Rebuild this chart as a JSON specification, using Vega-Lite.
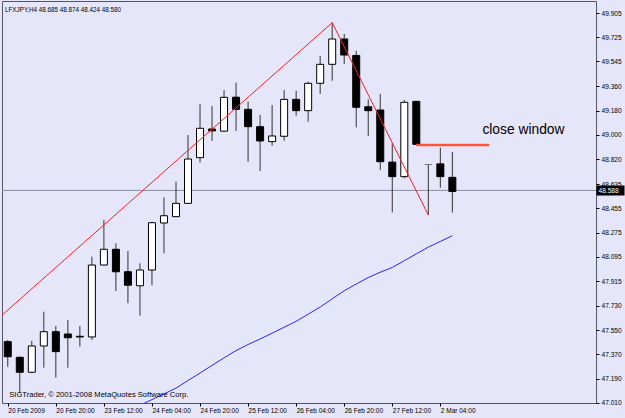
{
  "$schema": "https://vega.github.io/schema/vega-lite/v6.json",
  "width": 594,
  "height": 402,
  "autosize": {"type": "none"},
  "padding": {"left": 2, "top": 1, "right": 29, "bottom": 15},
  "background": "#e6e6fa",
  "config": {
    "view": {"stroke": "#555566", "strokeWidth": 1},
    "font": "Liberation Sans"
  },
  "title": {
    "text": "LFXJPY,H4 48.685 48.874 48.424 48.580",
    "anchor": "start",
    "frame": "group",
    "offset": -12,
    "dx": 3,
    "fontSize": 6.3,
    "fontWeight": "normal",
    "font": "Liberation Sans",
    "color": "black"
  },
  "datasets": {
    "candles": [
      {"i": 0, "t": "20 Feb 04:00", "o": 47.465, "h": 47.477, "l": 47.279, "c": 47.353},
      {"i": 1, "t": "20 Feb 08:00", "o": 47.349, "h": 47.355, "l": 47.084, "c": 47.238},
      {"i": 2, "t": "20 Feb 12:00", "o": 47.238, "h": 47.472, "l": 47.232, "c": 47.433},
      {"i": 3, "t": "20 Feb 16:00", "o": 47.433, "h": 47.688, "l": 47.272, "c": 47.539},
      {"i": 4, "t": "20 Feb 20:00", "o": 47.539, "h": 47.581, "l": 47.198, "c": 47.391},
      {"i": 5, "t": "23 Feb 00:00", "o": 47.522, "h": 47.626, "l": 47.272, "c": 47.494},
      {"i": 6, "t": "23 Feb 04:00", "o": 47.505, "h": 47.581, "l": 47.428, "c": 47.500},
      {"i": 7, "t": "23 Feb 08:00", "o": 47.500, "h": 48.096, "l": 47.477, "c": 48.034},
      {"i": 8, "t": "23 Feb 12:00", "o": 48.034, "h": 48.368, "l": 48.030, "c": 48.151},
      {"i": 9, "t": "23 Feb 16:00", "o": 48.151, "h": 48.195, "l": 47.841, "c": 47.984},
      {"i": 10, "t": "23 Feb 20:00", "o": 47.984, "h": 48.138, "l": 47.750, "c": 47.884},
      {"i": 11, "t": "24 Feb 00:00", "o": 47.880, "h": 48.047, "l": 47.658, "c": 47.997},
      {"i": 12, "t": "24 Feb 04:00", "o": 47.997, "h": 48.355, "l": 47.884, "c": 48.348},
      {"i": 13, "t": "24 Feb 08:00", "o": 48.346, "h": 48.537, "l": 48.121, "c": 48.400},
      {"i": 14, "t": "24 Feb 12:00", "o": 48.393, "h": 48.653, "l": 48.388, "c": 48.492},
      {"i": 15, "t": "24 Feb 16:00", "o": 48.492, "h": 48.999, "l": 48.490, "c": 48.821},
      {"i": 16, "t": "24 Feb 20:00", "o": 48.831, "h": 49.229, "l": 48.794, "c": 49.049},
      {"i": 17, "t": "25 Feb 00:00", "o": 49.044, "h": 49.215, "l": 48.955, "c": 49.030},
      {"i": 18, "t": "25 Feb 04:00", "o": 49.028, "h": 49.333, "l": 49.022, "c": 49.279},
      {"i": 19, "t": "25 Feb 08:00", "o": 49.280, "h": 49.388, "l": 49.029, "c": 49.190},
      {"i": 20, "t": "25 Feb 12:00", "o": 49.190, "h": 49.247, "l": 48.801, "c": 49.061},
      {"i": 21, "t": "25 Feb 16:00", "o": 49.061, "h": 49.148, "l": 48.732, "c": 48.955},
      {"i": 22, "t": "25 Feb 20:00", "o": 48.950, "h": 49.222, "l": 48.920, "c": 48.992},
      {"i": 23, "t": "26 Feb 00:00", "o": 48.990, "h": 49.333, "l": 48.957, "c": 49.264},
      {"i": 24, "t": "26 Feb 04:00", "o": 49.264, "h": 49.328, "l": 49.143, "c": 49.180},
      {"i": 25, "t": "26 Feb 08:00", "o": 49.180, "h": 49.395, "l": 49.098, "c": 49.383},
      {"i": 26, "t": "26 Feb 12:00", "o": 49.383, "h": 49.586, "l": 49.304, "c": 49.524},
      {"i": 27, "t": "26 Feb 16:00", "o": 49.524, "h": 49.833, "l": 49.402, "c": 49.712},
      {"i": 28, "t": "26 Feb 20:00", "o": 49.712, "h": 49.749, "l": 49.526, "c": 49.593},
      {"i": 29, "t": "27 Feb 00:00", "o": 49.590, "h": 49.625, "l": 49.056, "c": 49.205},
      {"i": 30, "t": "27 Feb 04:00", "o": 49.209, "h": 49.264, "l": 48.992, "c": 49.180},
      {"i": 31, "t": "27 Feb 08:00", "o": 49.185, "h": 49.304, "l": 48.739, "c": 48.801},
      {"i": 32, "t": "27 Feb 12:00", "o": 48.798, "h": 48.938, "l": 48.425, "c": 48.690},
      {"i": 33, "t": "27 Feb 16:00", "o": 48.690, "h": 49.259, "l": 48.678, "c": 49.242},
      {"i": 34, "t": "27 Feb 20:00", "o": 49.249, "h": 49.252, "l": 48.927, "c": 48.930},
      {"i": 35, "t": "2 Mar 00:00", "o": 48.780, "h": 48.784, "l": 48.405, "c": 48.780},
      {"i": 36, "t": "2 Mar 04:00", "o": 48.785, "h": 48.905, "l": 48.608, "c": 48.690},
      {"i": 37, "t": "2 Mar 08:00", "o": 48.685, "h": 48.874, "l": 48.424, "c": 48.580}
    ],
    "ma": [
      {"i": 11, "p": 46.993}, {"i": 12, "p": 47.035}, {"i": 13, "p": 47.077}, {"i": 14, "p": 47.120},
      {"i": 15, "p": 47.177}, {"i": 16, "p": 47.232}, {"i": 17, "p": 47.289}, {"i": 18, "p": 47.345},
      {"i": 19, "p": 47.399}, {"i": 20, "p": 47.444}, {"i": 21, "p": 47.485}, {"i": 22, "p": 47.528},
      {"i": 23, "p": 47.572}, {"i": 24, "p": 47.616}, {"i": 25, "p": 47.669}, {"i": 26, "p": 47.722},
      {"i": 27, "p": 47.783}, {"i": 28, "p": 47.843}, {"i": 29, "p": 47.893}, {"i": 30, "p": 47.941},
      {"i": 31, "p": 47.981}, {"i": 32, "p": 48.016}, {"i": 33, "p": 48.066}, {"i": 34, "p": 48.117},
      {"i": 35, "p": 48.167}, {"i": 36, "p": 48.209}, {"i": 37, "p": 48.252}
    ],
    "zz": [
      {"i": -6, "p": 47.226},
      {"i": 27, "p": 49.833},
      {"i": 35, "p": 48.405}
    ]
  },
  "layer": [
    {
      "data": {"values": [{"bid": 48.588}]},
      "mark": {"type": "rule", "stroke": "#8c8ca6", "strokeWidth": 1},
      "encoding": {
        "y": {
          "field": "bid", "type": "quantitative",
          "scale": {"domain": [47.0097, 49.9941], "zero": false, "nice": false},
          "axis": {
            "orient": "right", "values": [48.588], "format": ".3f", "title": null,
            "domain": false, "grid": false,
            "ticks": true, "tickSize": 28, "tickWidth": 10, "tickColor": "black", "tickCap": "butt",
            "labelColor": "white", "labelPadding": -26, "labelFontSize": 6.6, "labelFont": "Liberation Sans",
            "labelBaseline": "middle", "labelAlign": "left", "labelOverlap": false, "labelBound": false, "labelFlush": false
          }
        }
      }
    },
    {
      "data": {"name": "candles"},
      "mark": {"type": "rule", "stroke": "#333333", "strokeWidth": 1, "clip": true},
      "encoding": {
        "x": {
          "field": "i", "type": "quantitative",
          "scale": {"domain": [-0.065, 48.54], "zero": false, "nice": false},
          "axis": {
            "values": [0, 4, 8, 12, 16, 20, 24, 28, 32, 36],
            "labelExpr": "['20 Feb 2009','20 Feb 20:00','23 Feb 12:00','24 Feb 04:00','24 Feb 20:00','25 Feb 12:00','26 Feb 04:00','26 Feb 20:00','27 Feb 12:00','2 Mar 04:00'][round(datum.value/4)]",
            "title": null, "domain": false, "grid": false,
            "tickSize": 3, "tickColor": "black",
            "labelAlign": "left", "labelPadding": 1, "labelFontSize": 6.5, "labelFont": "Liberation Sans",
            "labelColor": "black", "labelFlush": false, "labelOverlap": false, "labelBound": false
          }
        },
        "y": {
          "field": "l", "type": "quantitative",
          "scale": {"domain": [47.0097, 49.9941], "zero": false, "nice": false},
          "axis": {
            "orient": "right",
            "values": [49.905, 49.725, 49.545, 49.36, 49.18, 49.0, 48.82, 48.635, 48.455, 48.275, 48.095, 47.915, 47.73, 47.55, 47.37, 47.19, 47.01],
            "format": ".3f", "title": null, "domain": false, "grid": false,
            "tickSize": 3, "tickColor": "black",
            "labelPadding": 2, "labelFontSize": 6.6, "labelFont": "Liberation Sans", "labelColor": "black",
            "labelOverlap": false, "labelBound": false, "labelFlush": false
          }
        },
        "y2": {"field": "h"}
      }
    },
    {
      "data": {"name": "candles"},
      "mark": {"type": "bar", "size": 7, "strokeWidth": 1, "orient": "vertical", "clip": true},
      "encoding": {
        "x": {"field": "i", "type": "quantitative"},
        "y": {"field": "o", "type": "quantitative", "axis": null},
        "y2": {"field": "c"},
        "fill": {"condition": {"test": "datum.c > datum.o", "value": "white"}, "value": "black"},
        "stroke": {"condition": {"test": "datum.c == datum.o", "value": "#777777"}, "value": "black"}
      }
    },
    {
      "data": {"name": "ma"},
      "mark": {"type": "line", "stroke": "#2626ff", "strokeWidth": 1, "clip": true},
      "encoding": {
        "x": {"field": "i", "type": "quantitative"},
        "y": {"field": "p", "type": "quantitative", "axis": null}
      }
    },
    {
      "data": {"name": "zz"},
      "mark": {"type": "line", "stroke": "#ff2020", "strokeWidth": 1, "clip": true},
      "encoding": {
        "x": {"field": "i", "type": "quantitative"},
        "y": {"field": "p", "type": "quantitative", "axis": null}
      }
    },
    {
      "data": {"values": [{"from": 34, "to": 40.05, "level": 48.925}]},
      "mark": {"type": "rule", "stroke": "#ff5533", "strokeWidth": 2.5},
      "encoding": {
        "x": {"field": "from", "type": "quantitative"},
        "x2": {"field": "to"},
        "y": {"field": "level", "type": "quantitative", "axis": null}
      }
    },
    {
      "data": {"values": [{"label": "close window"}]},
      "mark": {"type": "text", "align": "left", "baseline": "middle", "fontSize": 13.8, "font": "Liberation Sans", "color": "black"},
      "encoding": {
        "x": {"datum": 39.5, "type": "quantitative"},
        "y": {"datum": 49.036, "type": "quantitative", "axis": null},
        "text": {"field": "label"}
      }
    },
    {
      "data": {"values": [{"label": "SIGTrader, © 2001-2008 MetaQuotes Software Corp."}]},
      "mark": {"type": "text", "align": "left", "baseline": "middle", "fontSize": 7.6, "font": "Liberation Sans", "color": "black"},
      "encoding": {
        "x": {"datum": 0.12, "type": "quantitative"},
        "y": {"datum": 47.069, "type": "quantitative", "axis": null},
        "text": {"field": "label"}
      }
    }
  ],
  "resolve": {"axis": {"y": "independent"}}
}
